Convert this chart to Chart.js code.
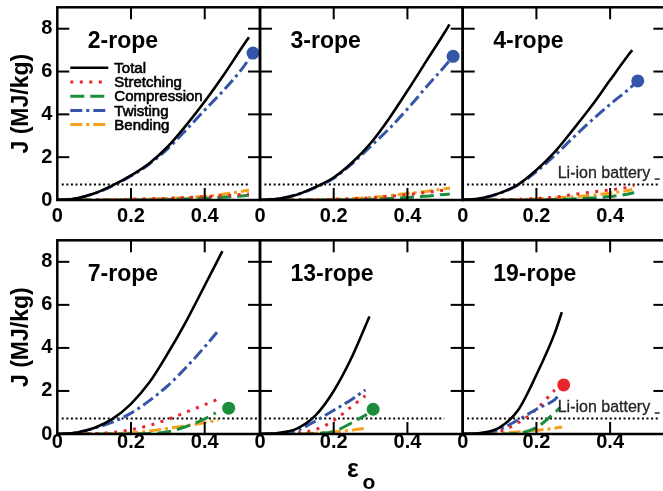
<!DOCTYPE html>
<html><head><meta charset="utf-8">
<script src="https://cdn.jsdelivr.net/npm/chart.js@4.4.0/dist/chart.umd.min.js"></script>
<style>
html,body{margin:0;padding:0;background:#fff;overflow:hidden;width:663px;height:491px;position:relative;}
canvas{position:absolute;left:0;top:-30px;}
</style></head><body>
<canvas id="c0" width="680" height="521"></canvas>
<canvas id="c1" width="680" height="521"></canvas>
<canvas id="c2" width="680" height="521"></canvas>
<canvas id="c3" width="680" height="521"></canvas>
<canvas id="c4" width="680" height="521"></canvas>
<canvas id="c5" width="680" height="521"></canvas>
<script>
// ---------- labels ----------
const panelNames = ['2-rope','3-rope','4-rope','7-rope','13-rope','19-rope'];
const seriesNames = ['Total','Stretching','Compression','Twisting','Bending'];
const xTickValues = [0,0.1,0.2,0.3,0.4,0.5];
const xLabelValues = [0,0.2,0.4];
const xTickLabels = ['0','0.2','0.4'];
const yTickValues = [0,1,2,3,4,5,6,7,8,9];
const yLabelValues = [0,2,4,6,8];
const yTickLabels = ['0','2','4','6','8'];
const yTitle = 'J (MJ/kg)';
const liIonLabel = 'Li-ion battery';
const liIonValue = 0.72;
const liIonEnd = [0.52,0.51,0.534,0.546,0.5,0.53];

// ---------- data ----------
const r2Total   = [[0,0],[0.05,0.07],[0.1,0.3],[0.15,0.68],[0.2,1.15],[0.25,1.72],[0.3,2.5],[0.35,3.5],[0.4,4.6],[0.45,5.8],[0.5,7.1],[0.52,7.6]];
const r2Stretch = [[0,0],[0.1,0.005],[0.2,0.03],[0.3,0.08],[0.4,0.15],[0.45,0.2],[0.5,0.26],[0.52,0.28]];
const r2Compress= [[0,0],[0.2,0.005],[0.3,0.02],[0.4,0.08],[0.45,0.13],[0.5,0.19],[0.52,0.22]];
const r2Twist   = [[0,0],[0.05,0.07],[0.1,0.3],[0.15,0.66],[0.2,1.12],[0.25,1.68],[0.3,2.4],[0.35,3.28],[0.4,4.2],[0.45,5.1],[0.5,6.1],[0.531,6.86]];
const r2Bend    = [[0,0],[0.1,0.01],[0.2,0.03],[0.3,0.07],[0.4,0.17],[0.45,0.27],[0.5,0.4],[0.52,0.47]];
const r2Dot     = [0.531,6.86];

const r3Total   = [[0,0],[0.05,0.06],[0.1,0.25],[0.15,0.6],[0.2,1.05],[0.25,1.75],[0.3,2.65],[0.35,3.8],[0.4,5.1],[0.45,6.45],[0.5,7.8],[0.514,8.2]];
const r3Stretch = [[0,0],[0.1,0.005],[0.2,0.03],[0.3,0.1],[0.4,0.25],[0.45,0.35],[0.5,0.46],[0.515,0.5]];
const r3Compress= [[0,0],[0.2,0.005],[0.3,0.03],[0.4,0.12],[0.45,0.18],[0.5,0.26],[0.515,0.28]];
const r3Twist   = [[0,0],[0.05,0.06],[0.1,0.25],[0.15,0.58],[0.2,1.02],[0.25,1.7],[0.3,2.5],[0.35,3.32],[0.4,4.25],[0.45,5.25],[0.5,6.22],[0.524,6.71]];
const r3Bend    = [[0,0],[0.1,0.01],[0.2,0.03],[0.3,0.12],[0.4,0.3],[0.45,0.4],[0.5,0.52],[0.515,0.56]];
const r3Dot     = [0.524,6.71];

const r4Total   = [[0,0],[0.05,0.08],[0.1,0.32],[0.15,0.72],[0.2,1.4],[0.25,2.25],[0.3,3.3],[0.35,4.4],[0.4,5.6],[0.45,6.78],[0.46,7.0]];
const r4Stretch = [[0,0],[0.1,0.01],[0.2,0.07],[0.25,0.13],[0.3,0.26],[0.35,0.37],[0.4,0.47],[0.45,0.6],[0.465,0.68]];
const r4Compress= [[0,0],[0.2,0.01],[0.3,0.05],[0.35,0.09],[0.4,0.16],[0.45,0.28],[0.465,0.35]];
const r4Twist   = [[0,0],[0.05,0.08],[0.1,0.31],[0.15,0.7],[0.2,1.33],[0.25,2.08],[0.3,2.92],[0.35,3.72],[0.4,4.47],[0.45,5.17],[0.475,5.56]];
const r4Bend    = [[0,0],[0.1,0.01],[0.2,0.05],[0.3,0.15],[0.35,0.22],[0.4,0.32],[0.45,0.45],[0.46,0.5]];
const r4Dot     = [0.475,5.56];

const r7Total   = [[0,0],[0.05,0.06],[0.1,0.28],[0.15,0.7],[0.2,1.4],[0.25,2.4],[0.3,3.75],[0.35,5.25],[0.4,6.9],[0.448,8.5]];
const r7Stretch = [[0,0],[0.1,0.02],[0.15,0.07],[0.2,0.2],[0.25,0.4],[0.3,0.68],[0.35,1.02],[0.4,1.36],[0.447,1.7]];
const r7Compress= [[0,0],[0.2,0.005],[0.25,0.02],[0.3,0.1],[0.35,0.35],[0.4,0.7],[0.43,0.98]];
const r7Twist   = [[0,0],[0.05,0.06],[0.1,0.27],[0.15,0.55],[0.2,0.97],[0.25,1.55],[0.3,2.25],[0.35,3.1],[0.4,4.05],[0.439,4.84]];
const r7Bend    = [[0,0],[0.1,0.01],[0.15,0.02],[0.2,0.05],[0.25,0.14],[0.3,0.26],[0.35,0.38],[0.4,0.53],[0.437,0.65]];
const r7Dot     = [0.465,1.2];

const r13Total   = [[0,0],[0.05,0.05],[0.1,0.25],[0.15,0.85],[0.2,2.0],[0.25,3.6],[0.297,5.46]];
const r13Stretch = [[0,0],[0.05,0.01],[0.1,0.05],[0.15,0.2],[0.2,0.62],[0.25,1.3],[0.286,1.78]];
const r13Compress= [[0,0],[0.1,0.005],[0.15,0.02],[0.2,0.12],[0.25,0.53],[0.29,0.91]];
const r13Twist   = [[0,0],[0.05,0.03],[0.1,0.17],[0.15,0.6],[0.2,1.1],[0.25,1.62],[0.286,2.05]];
const r13Bend    = [[0,0],[0.1,0.01],[0.15,0.04],[0.2,0.1],[0.25,0.18],[0.29,0.27]];
const r13Dot     = [0.307,1.15];

const r19Total   = [[0,0],[0.05,0.05],[0.1,0.3],[0.15,1.1],[0.2,2.75],[0.25,4.7],[0.269,5.66]];
const r19Stretch = [[0,0],[0.05,0.02],[0.1,0.12],[0.15,0.52],[0.2,1.15],[0.25,2.05]];
const r19Compress= [[0,0],[0.1,0.005],[0.15,0.03],[0.2,0.3],[0.25,1.0],[0.265,1.24]];
const r19Twist   = [[0,0],[0.05,0.03],[0.1,0.22],[0.15,0.65],[0.2,1.15],[0.25,1.6],[0.258,1.74]];
const r19Bend    = [[0,0],[0.05,0.01],[0.1,0.03],[0.15,0.09],[0.2,0.17],[0.25,0.27],[0.27,0.33]];
const r19Dot     = [0.274,2.28];

const panelSeries = [
  [r2Total,r2Stretch,r2Compress,r2Twist,r2Bend],
  [r3Total,r3Stretch,r3Compress,r3Twist,r3Bend],
  [r4Total,r4Stretch,r4Compress,r4Twist,r4Bend],
  [r7Total,r7Stretch,r7Compress,r7Twist,r7Bend],
  [r13Total,r13Stretch,r13Compress,r13Twist,r13Bend],
  [r19Total,r19Stretch,r19Compress,r19Twist,r19Bend]
];
const panelDots = [r2Dot,r3Dot,r4Dot,r7Dot,r13Dot,r19Dot];
const dotSeries = ['Twisting','Twisting','Twisting','Compression','Compression','Stretching'];

// ---------- styles ----------
const FONT = "'Liberation Sans', Arial, Helvetica, sans-serif";
const colors = {Total:'#000000', Stretching:'#e8262d', Compression:'#1b8e3e', Twisting:'#3556a8', Bending:'#f5a11c'};
const dashes = {Total:[], Stretching:[3,6.5], Compression:[14,6], Twisting:[12,4,3,4], Bending:[12,4,3,4]};
const widths = {Total:2.6, Stretching:3, Compression:3, Twisting:3, Bending:3};

const OFF = 30;            // canvas is shifted up by this much
const CW = 680, CH = 521;
const colLeft = [57.3, 260, 462.7];
const colWidth = 202.7;
const rowTop = [7.3, 240.3];
const rowBottom = [200, 434];
const YW = 40, XH = 30;

function near(list, v){ return list.findIndex(u => Math.abs(u - v) < 1e-6); }

function boldText(ctx, txt, x, y, sw) {
  ctx.fillText(txt, x, y);
  if (sw) { ctx.lineWidth = sw; ctx.strokeStyle = ctx.fillStyle; ctx.strokeText(txt, x, y); }
}

const decor = {
  id: 'decor',
  afterDatasetsDraw(chart, args, opts) {
    const p = opts.panel;
    const ctx = chart.ctx, ca = chart.chartArea;
    const xs = chart.scales.x, ys = chart.scales.y;
    ctx.save();
    ctx.setLineDash([]);
    ctx.strokeStyle = '#000';
    ctx.lineWidth = 2;
    ctx.lineCap = 'butt';
    const seg = (a,b,c,d) => { ctx.beginPath(); ctx.moveTo(a,b); ctx.lineTo(c,d); ctx.stroke(); };
    xs.ticks.forEach(t => {
      const px = xs.getPixelForValue(t.value);
      if (px <= ca.left + 1 || px >= ca.right - 1) return;
      const len = near(xLabelValues, t.value) >= 0 ? 12 : 7;
      seg(px, ca.bottom, px, ca.bottom - len);
      seg(px, ca.top, px, ca.top + len);
    });
    ys.ticks.forEach(t => {
      const py = ys.getPixelForValue(t.value);
      if (py <= ca.top + 1 || py >= ca.bottom - 1) return;
      const len = near(yLabelValues, t.value) >= 0 ? 12 : 7;
      seg(ca.left, py, ca.left + len, py);
      seg(ca.right, py, ca.right - len, py);
    });
    ctx.lineWidth = 2.5;
    ctx.strokeRect(ca.left, ca.top, ca.right - ca.left, ca.bottom - ca.top);

    // panel title
    ctx.fillStyle = '#000';
    ctx.font = 'bold 23px ' + FONT;
    ctx.textAlign = 'left';
    ctx.textBaseline = 'alphabetic';
    ctx.fillText(panelNames[p], ca.left + 30.5, ca.top + 41);

    // legend in first panel
    if (p === 0) {
      ctx.font = '15px ' + FONT;
      ctx.textBaseline = 'middle';
      seriesNames.forEach((n, i) => {
        const y = ca.top + 60.5 + i * 14.2;
        ctx.strokeStyle = colors[n];
        ctx.lineWidth = widths[n];
        ctx.setLineDash(dashes[n]);
        seg(ca.left + 13, y, ca.left + 51, y);
        ctx.setLineDash([]);
        ctx.fillStyle = '#000';
        boldText(ctx, n, ca.left + 57, y + 1, 0.6);
      });
    }
    // Li-ion label
    if (p === 2 || p === 5) {
      const py = ys.getPixelForValue(liIonValue);
      ctx.font = '16px ' + FONT;
      ctx.fillStyle = '#262626';
      ctx.textAlign = 'left';
      ctx.textBaseline = 'alphabetic';
      boldText(ctx, liIonLabel, ca.left + 95, py - 6.5, 0.3);
      ctx.strokeStyle = '#262626';
      ctx.lineWidth = 1.5;
      seg(ca.left + 192, py - 5.5, ca.left + 197, py - 5.5);
    }
    // y title
    if (p === 0 || p === 3) {
      ctx.save();
      ctx.translate(22, (ca.top + ca.bottom) / 2);
      ctx.rotate(-Math.PI / 2);
      ctx.font = 'bold 23px ' + FONT;
      ctx.fillStyle = '#000';
      ctx.textAlign = 'center';
      ctx.textBaseline = 'middle';
      ctx.fillText(yTitle, 0, 0);
      ctx.restore();
    }
    // x title
    if (p === 4) {
      ctx.fillStyle = '#000';
      ctx.textAlign = 'left';
      ctx.textBaseline = 'alphabetic';
      ctx.font = 'bold 25px ' + FONT;
      ctx.fillText('\u03b5', 347, 477 + OFF);
      ctx.font = 'bold 21px ' + FONT;
      ctx.fillText('o', 362.5, 489 + OFF);
    }
    ctx.restore();
  }
};

for (let p = 0; p < 6; p++) {
  const row = Math.floor(p / 3), col = p % 3;
  const L = colLeft[col], R = L + colWidth, T = rowTop[row] + OFF, B = rowBottom[row] + OFF;
  const datasets = [];
  const dn = dotSeries[p];
  datasets.push({
    label: dn + ' end', data: [{x: panelDots[p][0], y: panelDots[p][1]}], showLine: false,
    pointRadius: 6.5, pointBackgroundColor: colors[dn], pointBorderColor: colors[dn], pointBorderWidth: 0,
    borderColor: colors[dn]
  });
  const order = [0, 3, 1, 2, 4];
  order.forEach(k => {
    const n = seriesNames[k];
    datasets.push({
      label: n,
      data: panelSeries[p][k].map(q => ({x: q[0], y: q[1]})),
      borderColor: colors[n], borderWidth: widths[n], borderDash: dashes[n],
      borderCapStyle: 'butt', pointRadius: 0, fill: false,
      cubicInterpolationMode: 'monotone'
    });
  });
  datasets.push({
    label: liIonLabel,
    data: [{x: 0.012, y: liIonValue}, {x: liIonEnd[p], y: liIonValue}],
    borderColor: '#000', borderWidth: 2, borderDash: [2, 2.6], pointRadius: 0, fill: false
  });

  new Chart(document.getElementById('c' + p), {
    type: 'line',
    data: { datasets },
    plugins: [decor],
    options: {
      responsive: false,
      animation: false,
      devicePixelRatio: 1,
      layout: { padding: { left: L - YW, right: CW - R, top: T, bottom: CH - B - XH } },
      plugins: { legend: { display: false }, tooltip: { enabled: false }, decor: { panel: p } },
      scales: {
        x: {
          type: 'linear', min: 0, max: 0.55,
          afterBuildTicks: s => { s.ticks = xTickValues.map(v => ({value: v})); },
          afterFit: s => { s.height = XH; },
          grid: { display: false, drawTicks: false },
          border: { display: false },
          ticks: {
            autoSkip: false, maxRotation: 0, minRotation: 0,
            padding: row === 0 ? 6 : -1.5,
            color: '#000',
            font: { family: FONT, size: 20, weight: 'bold', lineHeight: 1 },
            callback: v => { const i = near(xLabelValues, v); return i >= 0 ? xTickLabels[i] : null; }
          }
        },
        y: {
          type: 'linear', min: 0, max: 9,
          afterBuildTicks: s => { s.ticks = yTickValues.map(v => ({value: v})); },
          afterFit: s => { s.width = YW; },
          grid: { display: false, drawTicks: false },
          border: { display: false },
          ticks: {
            display: col === 0,
            autoSkip: false,
            padding: 5,
            color: '#000',
            font: { family: FONT, size: 20, weight: 'bold', lineHeight: 1 },
            callback: v => { const i = near(yLabelValues, v); return i >= 0 ? yTickLabels[i] : null; }
          }
        }
      }
    }
  });
}
</script>
</body></html>
